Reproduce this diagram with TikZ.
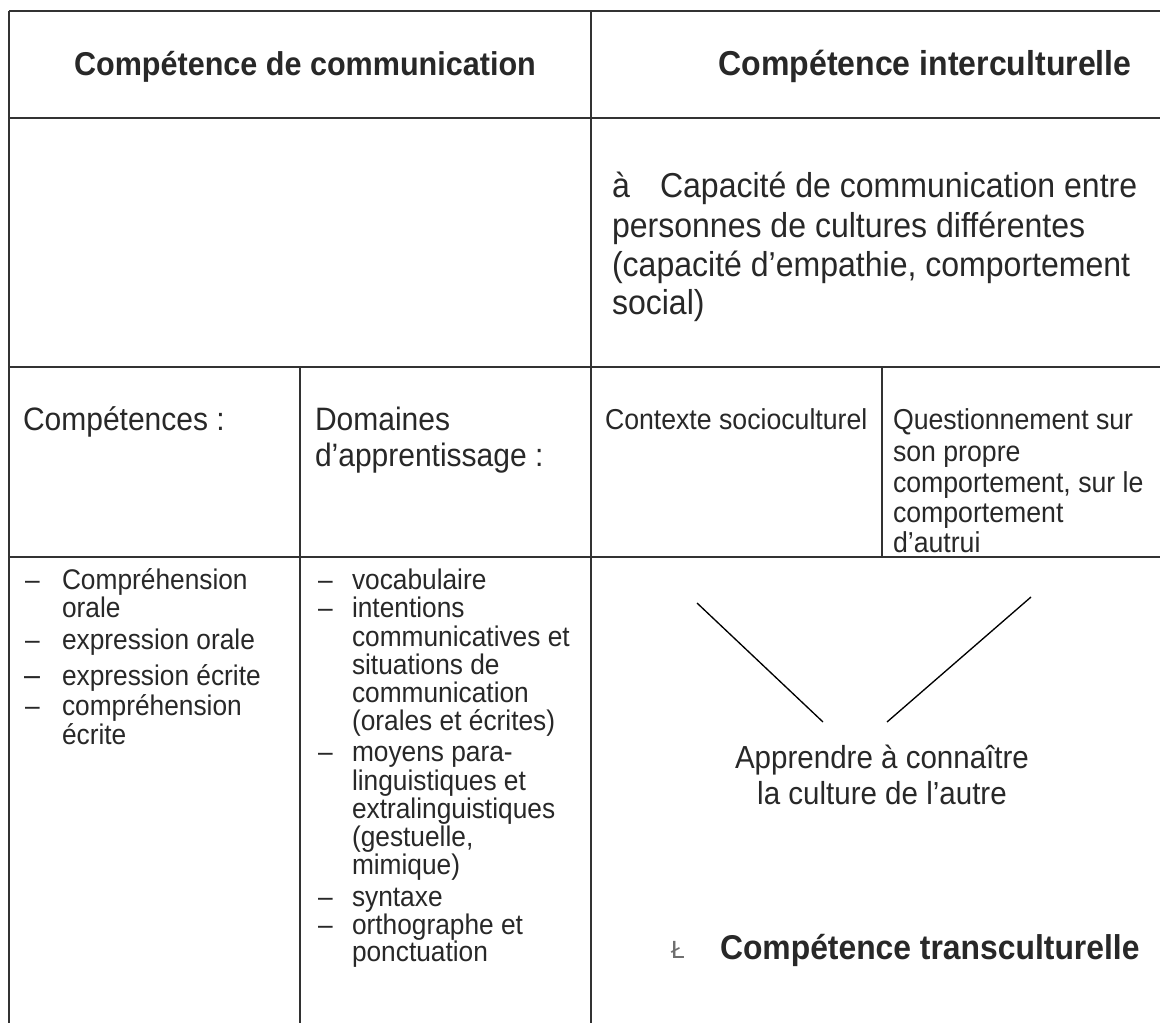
\documentclass[tikz,border=0pt]{standalone}
\usepackage{fontspec}
\setmainfont[FakeStretch=0.926]{Liberation Sans}
\newfontfamily\monofam{Liberation Mono}
\definecolor{ink}{RGB}{40,40,40}
\definecolor{rule}{RGB}{50,50,50}
\definecolor{symgray}{RGB}{110,110,110}
\newcommand{\fpx}[1]{\fontsize{\dimexpr #1pt*3/4\relax}{\dimexpr #1pt*3/4*115/100\relax}\selectfont}
\tikzset{
  grid/.style={draw=rule, line width=1.5pt},
  diag/.style={draw=black, line width=1pt},
  txt/.style={inner sep=0pt, outer sep=0pt, text=ink, anchor=base west},
  head/.style={txt, anchor=base, font=\bfseries\fpx{33}},
  big/.style={txt, font=\fpx{34.6}},
  mid/.style={txt, font=\fpx{32.4}},
  small/.style={txt, font=\fpx{28.8}},
  item/.style={txt, font=\fpx{28.4}},
}
\begin{document}
\begin{tikzpicture}[x=0.75pt, y=-0.75pt]
\useasboundingbox[fill=white] (0,0) rectangle (1160,1023);
% table rules
\coordinate (tl) at (9,11);
\coordinate (tr) at (1160,11);
\coordinate (h1l) at (9,118);
\coordinate (h1r) at (1160,118);
\coordinate (h2l) at (9,367);
\coordinate (h2r) at (1160,367);
\coordinate (h3l) at (9,557);
\coordinate (h3r) at (1160,557);
\coordinate (bl) at (9,1023);
\coordinate (mt) at (591,11);
\coordinate (mb) at (591,1023);
\coordinate (st) at (300,367);
\coordinate (sb) at (300,1023);
\coordinate (rt) at (882,367);
\coordinate (rb) at (882,557);
\draw[grid] (tl) -- (tr);
\draw[grid] (h1l) -- (h1r);
\draw[grid] (h2l) -- (h2r);
\draw[grid] (h3l) -- (h3r);
\draw[grid] (tl) -- (bl);
\draw[grid] (mt) -- (mb);
\draw[grid] (st) -- (sb);
\draw[grid] (rt) -- (rb);

% headers
\node[head] (hcom) at (305,76) {Compétence de communication};
\node[head, font=\bfseries\fpx{34.6}] (hint) at (925,76) {Compétence interculturelle};

% upper right description
\node[big] (a0) at (612,198) {à};
\node[big] (a1) at (660,198) {Capacité de communication entre};
\node[big] (a2) at (612,238) {personnes de cultures différentes};
\node[big] (a3) at (612,277) {(capacité d’empathie, comportement};
\node[big] (a4) at (612,315) {social)};

% row 3
\node[mid] (comp) at (23,431) {Compétences :};
\node[mid] (dom1) at (315,431) {Domaines};
\node[mid] (dom2) at (315,466) {d’apprentissage :};
\node[small] (ctx) at (605,430) {Contexte socioculturel};
\node[small] (q1) at (893,430) {Questionnement sur};
\node[small] (q2) at (893,461) {son propre};
\node[small] (q3) at (893,492) {comportement, sur le};
\node[small] (q4) at (893,522) {comportement};
\node[small] (q5) at (893,552) {d’autrui};

% left list
\node[item] (ld1) at (25,589) {–};
\node[item] (l1) at (62,589) {Compréhension};
\node[item] (l2) at (62,617) {orale};
\node[item] (ld2) at (25,649) {–};
\node[item] (l3) at (62,649) {expression orale};
\node[item, font=\fpx{31}] (ld3) at (24,685) {–};
\node[item] (l4) at (62,685) {expression écrite};
\node[item] (ld4) at (25,715) {–};
\node[item] (l5) at (62,715) {compréhension};
\node[item] (l6) at (62,744) {écrite};

% middle list
\node[item] (md1) at (318,589) {–};
\node[item] (m1) at (352,589) {vocabulaire};
\node[item] (md2) at (318,617) {–};
\node[item] (m2) at (352,617) {intentions};
\node[item] (m3) at (352,646) {communicatives et};
\node[item] (m4) at (352,674) {situations de};
\node[item] (m5) at (352,702) {communication};
\node[item] (m6) at (352,730) {(orales et écrites)};
\node[item] (md3) at (318,761) {–};
\node[item] (m7) at (352,761) {moyens para-};
\node[item] (m8) at (352,790) {linguistiques et};
\node[item] (m9) at (352,818) {extralinguistiques};
\node[item] (m10) at (352,846) {(gestuelle,};
\node[item] (m11) at (352,874) {mimique)};
\node[item] (md4) at (318,906) {–};
\node[item] (m12) at (352,906) {syntaxe};
\node[item] (md5) at (318,934) {–};
\node[item] (m13) at (352,934) {orthographe et};
\node[item] (m14) at (352,961) {ponctuation};

% lower right
\coordinate (d1a) at (697,603);
\coordinate (d1b) at (823,722);
\coordinate (d2a) at (1031,597);
\coordinate (d2b) at (887,722);
\draw[diag] (d1a) -- (d1b);
\draw[diag] (d2a) -- (d2b);
\node[txt, anchor=base, font=\fpx{31.9}] (ap1) at (882,768) {Apprendre à connaître};
\node[txt, anchor=base, font=\fpx{31.9}] (ap2) at (882,804) {la culture de l’autre};
\node[txt, text=symgray, font=\monofam\fpx{26}] (sym) at (670,958) {Ł};
\node[txt, font=\bfseries\fpx{34.4}] (trans) at (720,959) {Compétence transculturelle};
\end{tikzpicture}
\end{document}
